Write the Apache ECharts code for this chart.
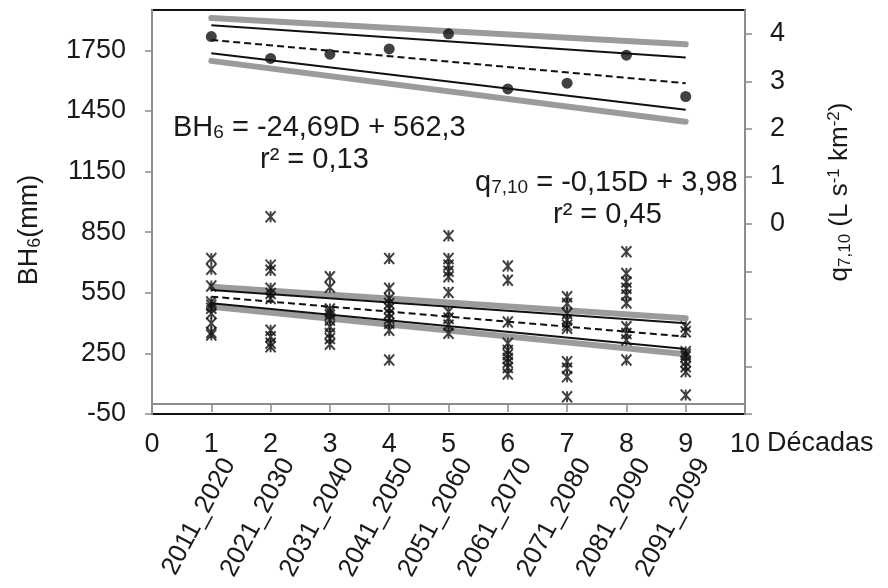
<!DOCTYPE html>
<html>
<head>
<meta charset="utf-8">
<script src="https://cdn.jsdelivr.net/npm/echarts@6/dist/echarts.min.js"></script>
<style>html,body{margin:0;padding:0;background:#fff}#c{width:888px;height:588px}</style>
</head>
<body>
<div id="c"></div>
<script>
// ---- data ----
const decadeLabels = ['2011_2020','2021_2030','2031_2040','2041_2050','2051_2060','2061_2070','2071_2080','2081_2090','2091_2099'];
const decades = [1,2,3,4,5,6,7,8,9];
const xTicks = [0,1,2,3,4,5,6,7,8,9,10];
const leftTicks = [-50,250,550,850,1150,1450,1750];
const rightTicks = [-4,-3,-2,-1,0,1,2,3,4];
const rightLabels = [0,1,2,3,4];

// BH6 (mm) yearly values per decade (left axis)
const bh1 = [720,667,584,505,489,473,448,399,354,341];
const bh2 = [926,687,662,572,547,522,365,332,300,283];
const bh3 = [629,578,470,455,440,415,382,349,324,295];
const bh4 = [720,572,522,497,473,448,423,399,365,217];
const bh5 = [832,720,687,657,629,552,456,424,390,350];
const bh6 = [683,612,406,300,265,245,225,205,180,148];
const bh7 = [530,497,448,415,390,375,209,176,134,35];
const bh8 = [753,646,604,572,539,499,382,349,316,217];
const bh9 = [382,357,258,245,233,209,184,159,44];

// q7,10 per decade (right axis)
const qValues = [3.94,3.48,3.57,3.68,4.00,2.84,2.96,3.55,2.68];

// trend / band lines, values at D=1 and D=9
const lineEnds = [1,9];
const bhTrend = [531,333];
const bhInnerUp = [564,399];
const bhInnerLow = [498,272];
const bhOuterUp = [580,424];
const bhOuterLow = [481,246];
const qTrend = [3.87,2.96];
const qInnerUp = [4.18,3.50];
const qInnerLow = [3.59,2.40];
const qOuterUp = [4.33,3.78];
const qOuterLow = [3.43,2.15];

// ---- chart ----
const FONT = "'Liberation Sans', Arial, sans-serif";
const TXT = '#1a1a1a';
const GRAY_AX = '#8c8c8c';

const bhAll = [bh1,bh2,bh3,bh4,bh5,bh6,bh7,bh8,bh9];
const bhPoints = [];
bhAll.forEach((arr,i)=>arr.forEach(v=>bhPoints.push([decades[i], v])));
const qPoints = qValues.map((v,i)=>[decades[i], v]);
const seg = arr => lineEnds.map((x,i)=>[x, arr[i]]);

function lineSeries(arr, yIdx, type) {
  const s = {
    type:'line', xAxisIndex:0, yAxisIndex:yIdx, data:seg(arr), symbol:'none', silent:true,
    animation:false, z: type==='gray'?2:3
  };
  if (type==='gray') s.lineStyle = {color:'#9b9b9b', width:6, cap:'round'};
  else if (type==='dash') s.lineStyle = {color:'#111', width:2, type:[7,4]};
  else s.lineStyle = {color:'#111', width:2};
  return s;
}
const plain = v => String(v);

const chart = echarts.init(document.getElementById('c'), null, {renderer:'canvas'});
chart.setOption({
  animation:false,
  backgroundColor:'#fff',
  textStyle:{fontFamily:FONT},
  grid:{left:152, right:143, top:10, bottom:174, show:true, borderColor:'#111', borderWidth:2, backgroundColor:'transparent'},
  xAxis:[
    { type:'value', min:0, max:10, interval:1, position:'bottom',
      axisLine:{show:false, onZero:false}, axisTick:{show:false}, splitLine:{show:false},
      axisLabel:{customValues:xTicks, margin:17, fontSize:27, color:TXT, fontFamily:FONT, formatter:plain},
      name:'Décadas', nameLocation:'end', nameGap:22,
      nameTextStyle:{fontSize:27, color:TXT, fontFamily:FONT, verticalAlign:'top', padding:[16,0,0,0]}
    },
    { type:'value', min:0, max:10, interval:1, position:'bottom',
      axisLine:{show:true, onZero:true, onZeroAxisIndex:0, lineStyle:{color:GRAY_AX, width:2}},
      axisTick:{show:true, inside:false, length:8, customValues:decades, lineStyle:{color:GRAY_AX, width:1.5}},
      axisLabel:{show:false}, splitLine:{show:false}
    },
    // rotated decade names, drawn slightly right of each decade tick as in the source figure
    { type:'value', min:-0.3, max:9.7, position:'bottom', offset:40,
      axisLine:{show:false, onZero:false}, axisTick:{show:false}, splitLine:{show:false},
      axisLabel:{customValues:decades, rotate:62, margin:6, fontSize:26, color:TXT, fontFamily:FONT,
        formatter:v=>decadeLabels[decades.indexOf(v)] || ''}
    }
  ],
  yAxis:[
    { type:'value', min:-50, max:1950, position:'left',
      axisLine:{show:true, onZero:false, lineStyle:{color:GRAY_AX, width:2}},
      axisTick:{show:true, inside:false, length:7, customValues:leftTicks, lineStyle:{color:GRAY_AX, width:1.5}},
      axisLabel:{customValues:leftTicks, margin:26, fontSize:27, color:TXT, fontFamily:FONT, formatter:plain},
      splitLine:{show:false}
    },
    { type:'value', min:-4, max:4.5, position:'right',
      axisLine:{show:true, onZero:false, lineStyle:{color:GRAY_AX, width:2}},
      axisTick:{show:true, inside:false, length:7, customValues:rightTicks, lineStyle:{color:GRAY_AX, width:1.5}},
      axisLabel:{customValues:rightLabels, margin:25, fontSize:27, color:TXT, fontFamily:FONT, formatter:plain},
      splitLine:{show:false}
    }
  ],
  series:[
    lineSeries(bhOuterUp,0,'gray'), lineSeries(bhOuterLow,0,'gray'),
    lineSeries(qOuterUp,1,'gray'), lineSeries(qOuterLow,1,'gray'),
    lineSeries(bhInnerUp,0,'solid'), lineSeries(bhInnerLow,0,'solid'),
    lineSeries(qInnerUp,1,'solid'), lineSeries(qInnerLow,1,'solid'),
    lineSeries(bhTrend,0,'dash'), lineSeries(qTrend,1,'dash'),
    { type:'scatter', name:'BH6', xAxisIndex:0, yAxisIndex:0, data:bhPoints, z:5,
      symbol:'path://M0,0L10,10M10,0L0,10M5,0L5,10', symbolSize:[10,11],
      itemStyle:{color:'rgba(0,0,0,0)', borderColor:'#111', borderWidth:2} },
    { type:'scatter', name:'q7,10', xAxisIndex:0, yAxisIndex:1, data:qPoints, z:5,
      symbol:'circle', symbolSize:11, itemStyle:{color:'#111'} }
  ],
  graphic:[
    { type:'text', left:173, top:113, z:10, style:{
        text:'{a|BH}{s|6}{a| = -24,69D + 562,3}', fill:TXT, font:'29px '+FONT,
        rich:{a:{fontSize:29, fontFamily:FONT, fill:TXT, lineHeight:30, verticalAlign:'middle'},
              s:{fontSize:19, fontFamily:FONT, fill:TXT, lineHeight:16, verticalAlign:'bottom'}} } },
    { type:'text', left:260, top:145, z:10, style:{ text:'r² = 0,13', fill:TXT, font:'29px '+FONT } },
    { type:'text', left:475, top:168, z:10, style:{
        text:'{a|q}{s|7,10}{a| = -0,15D + 3,98}', fill:TXT, font:'29px '+FONT,
        rich:{a:{fontSize:29, fontFamily:FONT, fill:TXT, lineHeight:30, verticalAlign:'middle'},
              s:{fontSize:19, fontFamily:FONT, fill:TXT, lineHeight:16, verticalAlign:'bottom'}} } },
    { type:'text', left:553, top:200, z:10, style:{ text:'r² = 0,45', fill:TXT, font:'29px '+FONT } },
    { type:'text', x:30, y:230, rotation:Math.PI/2, z:10, style:{
        text:'{a|BH}{s|6}{a|(mm)}', fill:TXT, align:'center', verticalAlign:'middle', font:'27px '+FONT,
        rich:{a:{fontSize:27, fontFamily:FONT, fill:TXT, lineHeight:28, verticalAlign:'middle'},
              s:{fontSize:18, fontFamily:FONT, fill:TXT, lineHeight:15, verticalAlign:'bottom'}} } },
    { type:'text', x:840, y:192, rotation:Math.PI/2, z:10, style:{
        text:'{a|q}{s|7,10}{a| (L s}{p|-1}{a| km}{p|-2}{a|)}', fill:TXT, align:'center', verticalAlign:'middle', font:'26px '+FONT,
        rich:{a:{fontSize:26, fontFamily:FONT, fill:TXT, lineHeight:28, verticalAlign:'middle'},
              s:{fontSize:17, fontFamily:FONT, fill:TXT, lineHeight:15, verticalAlign:'bottom'},
              p:{fontSize:17, fontFamily:FONT, fill:TXT, lineHeight:15, verticalAlign:'top'}} } }
  ]
});
</script>
</body>
</html>
